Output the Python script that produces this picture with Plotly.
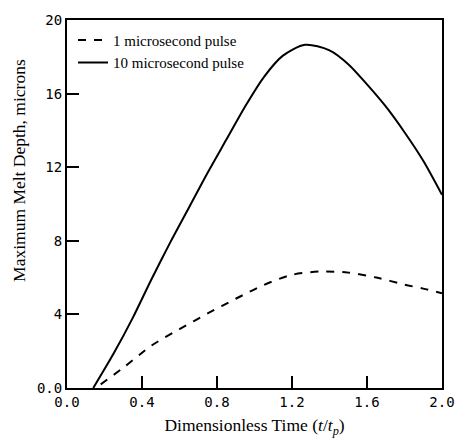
import plotly.graph_objects as go

# 10 microsecond pulse (solid)
t_10 = [0.14, 0.25, 0.35, 0.45, 0.55, 0.65, 0.75, 0.85, 0.95, 1.05, 1.15, 1.27,
        1.4, 1.5, 1.6, 1.7, 1.8, 1.9, 2.0]
d_10 = [0.0, 1.9, 3.8, 5.9, 7.9, 9.8, 11.7, 13.5, 15.3, 16.9, 18.05, 18.65,
        18.35, 17.6, 16.5, 15.3, 13.9, 12.35, 10.5]

# 1 microsecond pulse (dashed)
t_1 = [0.18, 0.3, 0.45, 0.6, 0.75, 0.9, 1.05, 1.2, 1.35, 1.5, 1.65, 1.8, 1.9, 2.0]
d_1 = [0.2, 1.1, 2.3, 3.2, 4.05, 4.85, 5.6, 6.15, 6.33, 6.27, 6.0, 5.62, 5.4, 5.15]

x_ticks = [0.0, 0.4, 0.8, 1.2, 1.6, 2.0]
x_labels = ["0.0", "0.4", "0.8", "1.2", "1.6", "2.0"]
y_ticks = [0, 4, 8, 12, 16, 20]
y_labels = ["0.0", "4", "8", "12", "16", "20"]

fig = go.Figure()
fig.add_trace(go.Scatter(x=t_1, y=d_1, mode="lines", name="1 microsecond pulse",
                         line=dict(color="black", width=2, dash="8px,8px", shape="spline",
                                   smoothing=0.8)))
fig.add_trace(go.Scatter(x=t_10, y=d_10, mode="lines", name="10 microsecond pulse",
                         line=dict(color="black", width=2, shape="spline", smoothing=0.8)))

tickfont = dict(family="DejaVu Sans Mono", size=14, color="black")
serif = "Liberation Serif"

fig.update_layout(
    width=467, height=444,
    margin=dict(l=67, r=17, t=15, b=51),
    paper_bgcolor="white", plot_bgcolor="white",
    font=dict(family=serif, color="black", size=15),
    legend=dict(x=0.016, y=0.99, xanchor="left", yanchor="top", bgcolor="rgba(0,0,0,0)",
                font=dict(family=serif, size=15), itemwidth=30, tracegroupgap=0),
    xaxis=dict(range=[0, 2.0], tickvals=x_ticks, ticktext=x_labels, ticks="inside",
               ticklen=12, tickwidth=1.5, tickcolor="black", showgrid=False, zeroline=False,
               showline=True, linecolor="black", linewidth=2, mirror=True,
               tickfont=tickfont,
               title=dict(text="Dimensionless Time (<i>t</i>/<i>t</i><sub><i>p</i></sub>)",
                          font=dict(family=serif, size=17.5), standoff=10)),
    yaxis=dict(range=[0, 20], tickvals=y_ticks, ticktext=y_labels, ticks="inside",
               ticklen=12, tickwidth=1.5, tickcolor="black", showgrid=False, zeroline=False,
               showline=True, linecolor="black", linewidth=2, mirror=True,
               tickfont=tickfont),
    annotations=[dict(text="Maximum Melt Depth, microns", xref="paper", yref="paper",
                      x=-0.128, y=0.59, xanchor="center", yanchor="middle", textangle=-90,
                      showarrow=False, font=dict(family=serif, size=17.5))],
)

fig.write_html("out.html")
